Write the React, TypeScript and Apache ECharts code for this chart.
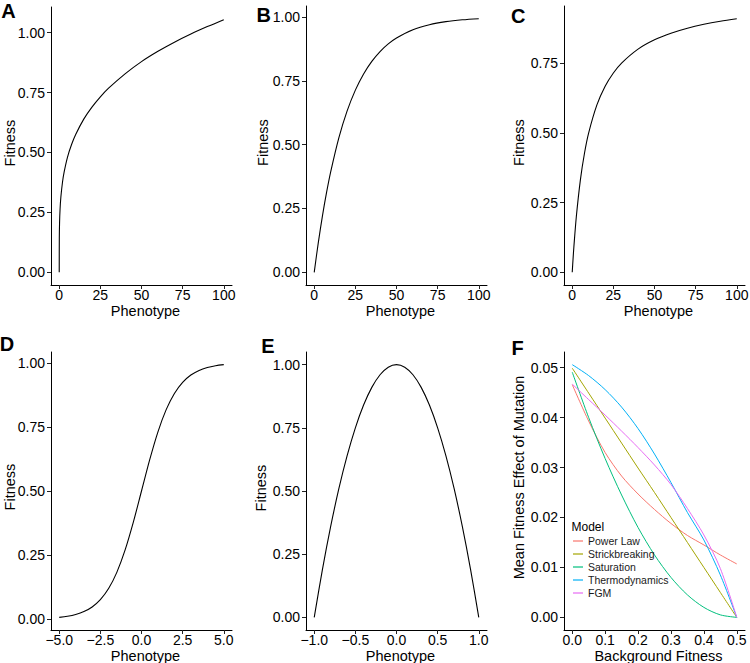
import React, { useEffect, useRef } from "react";
import * as echarts from "echarts";

// ---------- Data ----------
const phenoA = [0, 0.05, 0.2, 0.5, 1, 2, 3, 5, 7.5, 10, 15, 20, 25, 30, 40, 50, 60, 70, 80, 90, 100];
const fitA = [0, 0.143, 0.206, 0.262, 0.314, 0.377, 0.419, 0.48, 0.533, 0.575, 0.64, 0.69, 0.732, 0.768, 0.828, 0.879, 0.922, 0.96, 0.994, 1.025, 1.054];

const phenoB = [0, 2.5, 5, 7.5, 10, 15, 20, 25, 30, 35, 40, 45, 50, 60, 70, 80, 90, 100];
const fitB = [0, 0.1175, 0.2212, 0.3127, 0.3935, 0.5276, 0.6321, 0.7135, 0.7769, 0.8262, 0.8647, 0.8946, 0.9179, 0.9502, 0.9698, 0.9817, 0.9889, 0.9933];

const phenoC = [0, 0.5, 1, 2.5, 5, 7.5, 10, 15, 20, 25, 30, 40, 50, 60, 70, 80, 90, 100];
const fitC = [0, 0.0476, 0.0909, 0.2, 0.3333, 0.4286, 0.5, 0.6, 0.6667, 0.7143, 0.75, 0.8, 0.8333, 0.8571, 0.875, 0.8889, 0.9, 0.9091];

const phenoD = [-5, -4.5, -4, -3.5, -3, -2.5, -2, -1.5, -1, -0.5, 0, 0.5, 1, 1.5, 2, 2.5, 3, 3.5, 4, 4.5, 5];
const fitD = [0.0067, 0.011, 0.018, 0.0293, 0.0474, 0.0759, 0.1192, 0.1824, 0.2689, 0.3775, 0.5, 0.6225, 0.7311, 0.8176, 0.8808, 0.9241, 0.9526, 0.9707, 0.982, 0.989, 0.9933];

const phenoE = [-1, -0.9, -0.8, -0.7, -0.6, -0.5, -0.4, -0.3, -0.2, -0.1, 0, 0.1, 0.2, 0.3, 0.4, 0.5, 0.6, 0.7, 0.8, 0.9, 1];
const fitE = [0, 0.19, 0.36, 0.51, 0.64, 0.75, 0.84, 0.91, 0.96, 0.99, 1, 0.99, 0.96, 0.91, 0.84, 0.75, 0.64, 0.51, 0.36, 0.19, 0];

const bgFitness = [0, 0.05, 0.1, 0.15, 0.2, 0.25, 0.3, 0.35, 0.4, 0.45, 0.5];
const powerLaw = [0.0466, 0.0393, 0.033, 0.0283, 0.0247, 0.0216, 0.0188, 0.0164, 0.0145, 0.0125, 0.0107];
const strickbreaking = [0.0499, 0.0449, 0.0399, 0.0349, 0.0299, 0.025, 0.02, 0.015, 0.01, 0.005, 0.0];
const saturation = [0.0491, 0.04, 0.0318, 0.0245, 0.018, 0.0125, 0.008, 0.0045, 0.002, 0.0005, 0.0];
const thermodynamics = [0.0506, 0.0484, 0.0456, 0.0421, 0.0378, 0.0327, 0.027, 0.021, 0.0155, 0.0085, 0.0];
const fgm = [0.0467, 0.0436, 0.0405, 0.0373, 0.034, 0.0305, 0.0266, 0.0218, 0.0165, 0.0098, 0.0];

const modelNames = ["Power Law", "Strickbreaking", "Saturation", "Thermodynamics", "FGM"];
const modelColors = ["#F8766D", "#A3A500", "#00BF7D", "#00B0F6", "#E76BF3"];

const ticks0to100 = [0, 25, 50, 75, 100];
const ticksM5to5 = [-5, -2.5, 0, 2.5, 5];
const ticksM1to1 = [-1, -0.5, 0, 0.5, 1];
const ticksFit = [0, 0.25, 0.5, 0.75, 1];
const ticksFitC = [0, 0.25, 0.5, 0.75];
const ticksBg = [0, 0.1, 0.2, 0.3, 0.4, 0.5];
const ticksEffect = [0, 0.01, 0.02, 0.03, 0.04, 0.05];

const panelLetters = ["A", "B", "C", "D", "E", "F"];

const FONT = '"Liberation Sans", Arial, Helvetica, sans-serif';

const zip = (xs: number[], ys: number[]) => xs.map((x, i) => [x, ys[i]]);
const minus = (s: string) => s.replace("-", "\u2212");

export default function App() {
  const ref = useRef<HTMLDivElement>(null);

  useEffect(() => {
    if (!ref.current) return;
    const chart = echarts.init(ref.current, undefined, { renderer: "svg" });

    const grids = [
      { left: 51, top: 7, width: 181, height: 278 },
      { left: 306, top: 6, width: 181, height: 279 },
      { left: 564, top: 6, width: 181, height: 279 },
      { left: 51, top: 352, width: 181, height: 278 },
      { left: 306, top: 352, width: 181, height: 278 },
      { left: 564, top: 352, width: 181, height: 278 },
    ].map((g) => ({ ...g, containLabel: false, outerBoundsMode: "none" }));

    const axisCommon = {
      type: "value",
      nameLocation: "middle",
      nameMoveOverlap: false,
      axisLine: { show: true, onZero: false, lineStyle: { color: "#000", width: 1 } },
      splitLine: { show: false },
    };

    const xAx = (i: number, min: number, max: number, ticks: number[], fmt: (v: number) => string, name: string) => ({
      ...axisCommon,
      gridIndex: i,
      min,
      max,
      name,
      nameGap: 18,
      nameTextStyle: { fontSize: 14.5, color: "#000", fontFamily: FONT, padding: [0, 0, 0, 8] },
      axisTick: { show: true, length: 4, customValues: ticks, lineStyle: { color: "#222", width: 1 } },
      axisLabel: { show: true, customValues: ticks, formatter: fmt, fontSize: 14, color: "#000", margin: 3, fontFamily: FONT },
    });

    const yAx = (i: number, min: number, max: number, ticks: number[], name: string, gap: number, shift: number) => ({
      ...axisCommon,
      gridIndex: i,
      min,
      max,
      name,
      nameGap: gap,
      nameTextStyle: { fontSize: 14.5, color: "#000", fontFamily: FONT, padding: [0, 0, 0, shift] },
      axisTick: { show: true, length: 4, customValues: ticks, lineStyle: { color: "#222", width: 1 } },
      axisLabel: { show: true, customValues: ticks, formatter: (v: number) => v.toFixed(2), fontSize: 14, color: "#000", margin: 6, fontFamily: FONT },
    });

    const intFmt = (v: number) => String(Math.round(v));
    const oneFmt = (v: number) => minus(v.toFixed(1));

    const xAxis = [
      xAx(0, -5, 105, ticks0to100, intFmt, "Phenotype"),
      xAx(1, -5, 105, ticks0to100, intFmt, "Phenotype"),
      xAx(2, -5, 105, ticks0to100, intFmt, "Phenotype"),
      xAx(3, -5.5, 5.5, ticksM5to5, oneFmt, "Phenotype"),
      xAx(4, -1.1, 1.1, ticksM1to1, oneFmt, "Phenotype"),
      xAx(5, -0.025, 0.525, ticksBg, oneFmt, "Background Fitness"),
    ];
    const yAxis = [
      yAx(0, -0.0527, 1.1067, ticksFit, "Fitness", 34, 6),
      yAx(1, -0.0497, 1.043, ticksFit, "Fitness", 36, 6),
      yAx(2, -0.0455, 0.9546, ticksFitC, "Fitness", 38, 6),
      yAx(3, -0.0426, 1.0426, ticksFit, "Fitness", 34, 8),
      yAx(4, -0.05, 1.05, ticksFit, "Fitness", 38, 6),
      yAx(5, -0.00253, 0.05313, ticksEffect, "Mean Fitness Effect of Mutation", 38, 27),
    ];

    const blackLine = (i: number, xs: number[], ys: number[]) => ({
      type: "line",
      xAxisIndex: i,
      yAxisIndex: i,
      data: zip(xs, ys),
      symbol: "none",
      showSymbol: false,
      smooth: 0.3,
      lineStyle: { color: "#000", width: 1.1 },
      silent: true,
    });

    const fSeries = [powerLaw, strickbreaking, saturation, thermodynamics, fgm].map((ys, k) => ({
      type: "line",
      name: modelNames[k],
      xAxisIndex: 5,
      yAxisIndex: 5,
      data: zip(bgFitness, ys),
      symbol: "none",
      showSymbol: false,
      smooth: 0.3,
      color: modelColors[k],
      itemStyle: { color: modelColors[k] },
      lineStyle: { color: modelColors[k], width: 1 },
      silent: true,
    }));

    const series = [
      blackLine(0, phenoA, fitA),
      blackLine(1, phenoB, fitB),
      blackLine(2, phenoC, fitC),
      blackLine(3, phenoD, fitD),
      blackLine(4, phenoE, fitE),
      ...fSeries,
    ];

    const letterPos = [
      [8.5, 11],
      [263.7, 15],
      [518.3, 15.8],
      [7, 344],
      [268, 345.8],
      [517.5, 348.3],
    ];

    const graphic = [
      ...panelLetters.map((t, k) => ({
        type: "text",
        x: letterPos[k][0],
        y: letterPos[k][1],
        style: { text: t, fontSize: 20, fontWeight: "bold", fill: "#000", fontFamily: FONT, textAlign: "center", textVerticalAlign: "middle" },
        silent: true,
      })),
      {
        type: "text",
        x: 571.5,
        y: 526.7,
        style: { text: "Model", fontSize: 12, fill: "#000", fontFamily: FONT, textAlign: "left", textVerticalAlign: "middle" },
        silent: true,
      },
    ];

    chart.setOption({
      animation: false,
      backgroundColor: "#fff",
      textStyle: { fontFamily: FONT },
      grid: grids,
      xAxis,
      yAxis,
      series,
      legend: {
        data: modelNames,
        orient: "vertical",
        left: 573,
        top: 535,
        padding: 0,
        icon: "rect",
        itemWidth: 10,
        itemHeight: 1.2,
        itemGap: 1,
        selectedMode: false,
        textStyle: { fontSize: 10.5, color: "#1a1a1a", lineHeight: 12, fontFamily: FONT },
      },
      graphic,
    });

    return () => chart.dispose();
  }, []);

  return <div ref={ref} style={{ position: "fixed", left: 0, top: 0, width: 750, height: 663 }} />;
}
